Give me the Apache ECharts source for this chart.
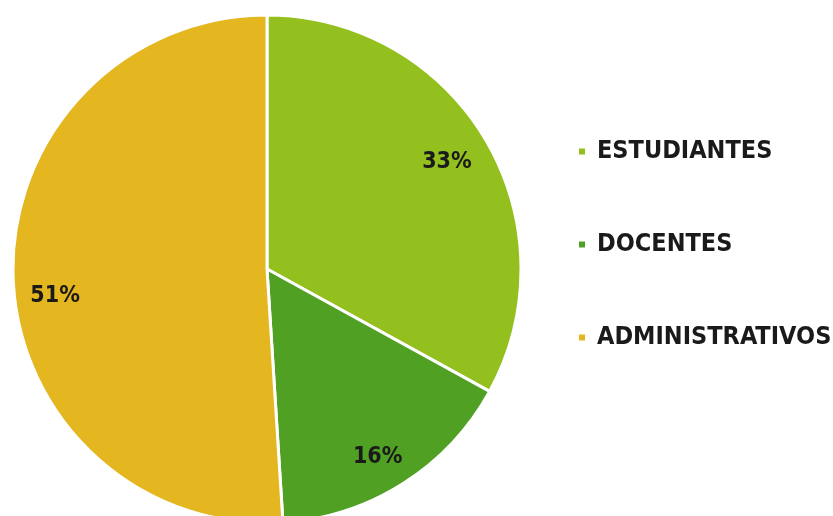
<!DOCTYPE html>
<html>
<head>
<meta charset="utf-8">
<script src="https://cdn.jsdelivr.net/npm/echarts@6/dist/echarts.min.js"></script>
<style>
  html, body { margin:0; padding:0; background:#fff; }
  #chart { width:833px; height:516px; }
</style>
</head>
<body>
<div id="chart"></div>
<script>
const categories = ['ESTUDIANTES', 'DOCENTES', 'ADMINISTRATIVOS'];
const values = [33, 16, 51];
const colors = ['#93c01f', '#50a024', '#e4b61f'];
// small nudges so the labels sit where the original put them
const labelOffsets = [[-6, 3], [-5, 6], [4, 20]];

const myChart = echarts.init(document.getElementById('chart'));
const center = [267, 269];
const labelFont = 'DejaVu Sans Condensed, DejaVu Sans, sans-serif';

let option = {
    color: colors,
    animation: false,
    legend: {
        orient: 'vertical',
        left: 577,
        top: 139,
        padding: 0,
        icon: 'rect',
        itemWidth: 8,
        itemHeight: 8,
        itemGap: 68,
        data: categories,
        textStyle: {
            fontFamily: labelFont,
            fontWeight: 'bold',
            fontSize: 25,
            color: '#1a1a1a',
            padding: [0, 0, 0, 6]
        }
    },
    series: [
        {
            type: 'pie',
            center: center,
            radius: [0, 254],
            startAngle: 90,
            clockwise: true,
            itemStyle: { borderColor: '#fff', borderWidth: 3 },
            label: { show: false },
            labelLine: { show: false },
            data: categories.map((name, i) => ({ name: name, value: values[i] }))
        },
        {
            // transparent ring only used to place the labels further out
            type: 'pie',
            center: center,
            radius: [172, 254],
            startAngle: 90,
            clockwise: true,
            silent: true,
            itemStyle: { color: 'rgba(0,0,0,0)', borderWidth: 0 },
            label: {
                show: true,
                position: 'inside',
                formatter: '{d}%',
                fontFamily: labelFont,
                fontWeight: 'bold',
                fontSize: 23,
                color: '#1a1a1a'
            },
            labelLine: { show: false },
            data: categories.map((name, i) => ({
                name: name,
                value: values[i],
                label: { offset: labelOffsets[i] }
            }))
        }
    ]
};
myChart.setOption(option);
</script>
</body>
</html>
